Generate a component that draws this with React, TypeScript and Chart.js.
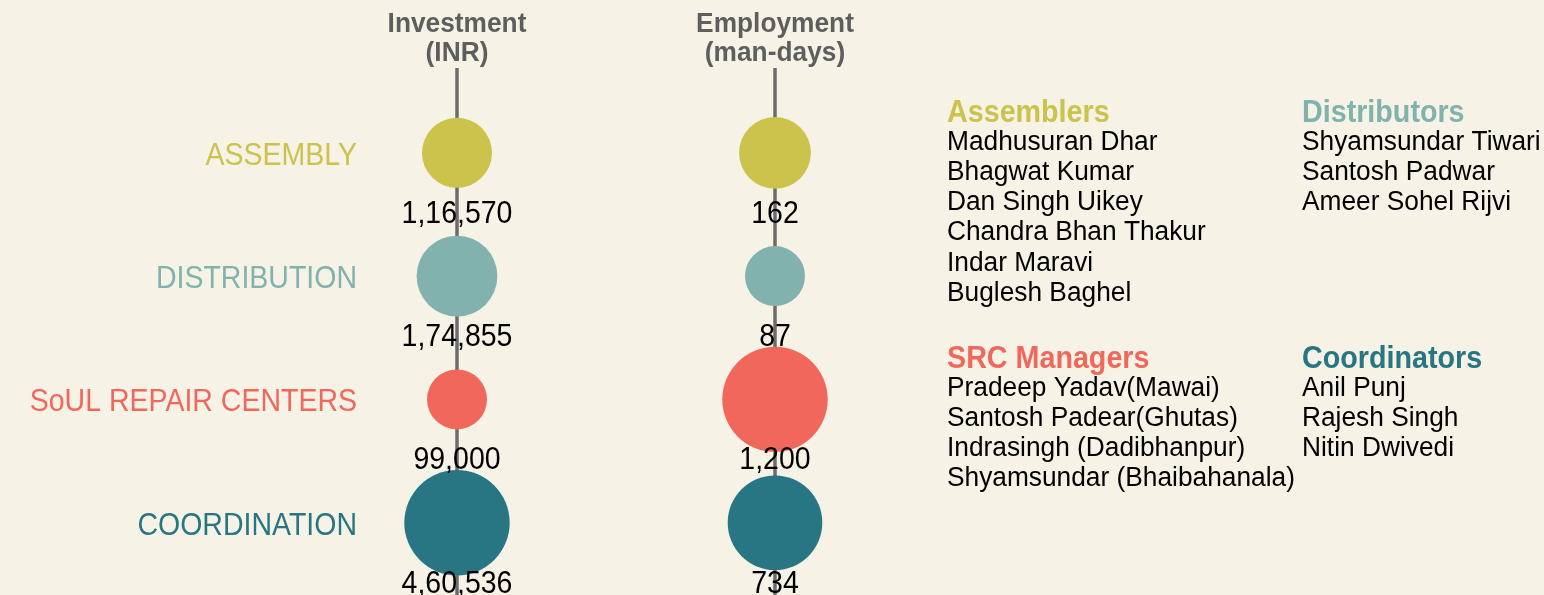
import React, { useEffect, useRef } from "react";
import { Chart, registerables } from "chart.js";

Chart.register(...registerables);

// ---------- data ----------
const CATEGORIES = ["ASSEMBLY", "DISTRIBUTION", "SoUL REPAIR CENTERS", "COORDINATION"];
const COLUMN_TITLES = [
  ["Investment", "(INR)"],
  ["Employment", "(man-days)"],
];
const INVESTMENT_INR = [116570, 174855, 99000, 460536];
const EMPLOYMENT_DAYS = [162, 87, 1200, 734];

const LEGEND_TITLES = ["Assemblers", "Distributors", "SRC Managers", "Coordinators"];
const ASSEMBLERS = [
  "Madhusuran Dhar",
  "Bhagwat Kumar",
  "Dan Singh Uikey",
  "Chandra Bhan Thakur",
  "Indar Maravi",
  "Buglesh Baghel",
];
const DISTRIBUTORS = ["Shyamsundar Tiwari", "Santosh Padwar", "Ameer Sohel Rijvi"];
const SRC_MANAGERS = [
  "Pradeep Yadav(Mawai)",
  "Santosh Padear(Ghutas)",
  "Indrasingh (Dadibhanpur)",
  "Shyamsundar (Bhaibahanala)",
];
const COORDINATORS = ["Anil Punj", "Rajesh Singh", "Nitin Dwivedi"];

// ---------- styles ----------
const PALETTE = ["#CBC34B", "#82B2AE", "#F2675C", "#287683"];
const BG = "#F6F2E5";
const GREY = "#5E5E5E";
const LINE_GREY = "#6b6b6b";
const FONT = '"Liberation Sans", Arial, sans-serif';
const STRETCH = 1.08;

const W = 1544;
const H = 595;
const R_MIN = 30;
const R_MAX = 52.7;

function sqrtSize(values: number[]) {
  const mn = Math.min(...values);
  const mx = Math.max(...values);
  return (v: number) => R_MIN + (R_MAX - R_MIN) * Math.sqrt((v - mn) / (mx - mn));
}

function formatIN(n: number): string {
  const s = String(Math.round(n));
  const last3 = s.slice(-3);
  const rest = s.slice(0, -3);
  if (!rest) return last3;
  return rest.replace(/\B(?=(\d{2})+(?!\d))/g, ",") + "," + last3;
}

function text(ctx: CanvasRenderingContext2D, t: string, x: number, y: number) {
  ctx.save();
  ctx.translate(x, y);
  ctx.scale(1, STRETCH);
  ctx.fillText(t, 0, 0);
  ctx.restore();
}

// layout of the (hidden) scales
const COL_PX = [457, 775];
const ROW0_PX = 152.8;
const ROW_STEP = 123.3;
const X_RANGE = W / (COL_PX[1] - COL_PX[0]);
const X_MIN = 1 - COL_PX[0] / (COL_PX[1] - COL_PX[0]);
const Y_RANGE = H / ROW_STEP;
const Y_MIN = -ROW0_PX / ROW_STEP;

export default function App() {
  const ref = useRef<HTMLCanvasElement | null>(null);

  useEffect(() => {
    document.body.style.margin = "0";
    document.body.style.background = BG;
    const canvas = ref.current;
    if (!canvas) return;

    const invSize = sqrtSize(INVESTMENT_INR);
    const empSize = sqrtSize(EMPLOYMENT_DAYS);
    const columns = [INVESTMENT_INR, EMPLOYMENT_DAYS];

    const overlay = {
      id: "overlay",
      beforeDatasetsDraw(chart: any) {
        const ctx = chart.ctx;
        const xs = chart.scales.x;
        ctx.save();
        ctx.strokeStyle = LINE_GREY;
        ctx.lineWidth = 3.5;
        [1, 2].forEach((c) => {
          const px = xs.getPixelForValue(c);
          ctx.beginPath();
          ctx.moveTo(px, 68);
          ctx.lineTo(px, H);
          ctx.stroke();
        });
        ctx.restore();
      },
      afterDatasetsDraw(chart: any) {
        const ctx = chart.ctx;
        const xs = chart.scales.x;
        const ys = chart.scales.y;
        ctx.save();
        ctx.textBaseline = "middle";

        // column titles
        ctx.fillStyle = GREY;
        ctx.textAlign = "center";
        ctx.font = `bold 26.3px ${FONT}`;
        COLUMN_TITLES.forEach((lines, c) => {
          const px = xs.getPixelForValue(c + 1);
          lines.forEach((t, li) => text(ctx, t, px, 24.5 + li * 29));
        });

        // category labels
        ctx.textAlign = "right";
        ctx.font = `28.5px ${FONT}`;
        CATEGORIES.forEach((cat, i) => {
          ctx.fillStyle = PALETTE[i];
          text(ctx, cat, xs.getPixelForValue(1) - 100, ys.getPixelForValue(i) + 3.5);
        });

        // value labels
        ctx.textAlign = "center";
        ctx.fillStyle = "#000";
        ctx.font = `28.5px ${FONT}`;
        columns.forEach((vals, c) => {
          const px = xs.getPixelForValue(c + 1);
          vals.forEach((v, i) => text(ctx, formatIN(v), px, ys.getPixelForValue(i) + 61.5));
        });

        // legend blocks
        const blocks = [
          { title: LEGEND_TITLES[0], names: ASSEMBLERS, color: PALETTE[0], x: 947, y: 113.5 },
          { title: LEGEND_TITLES[1], names: DISTRIBUTORS, color: PALETTE[1], x: 1302, y: 113.5 },
          { title: LEGEND_TITLES[2], names: SRC_MANAGERS, color: PALETTE[2], x: 947, y: 359.5 },
          { title: LEGEND_TITLES[3], names: COORDINATORS, color: PALETTE[3], x: 1302, y: 359.5 },
        ];
        ctx.textAlign = "left";
        blocks.forEach((b) => {
          ctx.fillStyle = b.color;
          ctx.font = `bold 28.7px ${FONT}`;
          text(ctx, b.title, b.x, b.y);
          ctx.fillStyle = "#000";
          ctx.font = `26.3px ${FONT}`;
          b.names.forEach((n, k) => text(ctx, n, b.x, b.y + 28.5 + k * 30.2));
        });
        ctx.restore();
      },
    };

    const chart = new Chart(canvas, {
      type: "bubble",
      data: {
        datasets: [
          {
            label: "Investment (INR)",
            data: INVESTMENT_INR.map((v, i) => ({ x: 1, y: i, r: invSize(v) })),
            backgroundColor: PALETTE,
            borderWidth: 0,
          },
          {
            label: "Employment (man-days)",
            data: EMPLOYMENT_DAYS.map((v, i) => ({ x: 2, y: i, r: empSize(v) })),
            backgroundColor: PALETTE,
            borderWidth: 0,
          },
        ],
      },
      options: {
        responsive: false,
        animation: false,
        events: [],
        layout: { padding: 0, autoPadding: false },
        plugins: { legend: { display: false }, tooltip: { enabled: false } },
        scales: {
          x: { type: "linear", display: false, min: X_MIN, max: X_MIN + X_RANGE },
          y: { type: "linear", display: false, reverse: true, min: Y_MIN, max: Y_MIN + Y_RANGE },
        },
      },
      plugins: [overlay],
    } as any);

    return () => chart.destroy();
  }, []);

  return (
    <div style={{ position: "fixed", left: 0, top: 0, width: W, height: H, background: BG }}>
      <canvas ref={ref} width={W} height={H} style={{ display: "block" }} />
    </div>
  );
}
